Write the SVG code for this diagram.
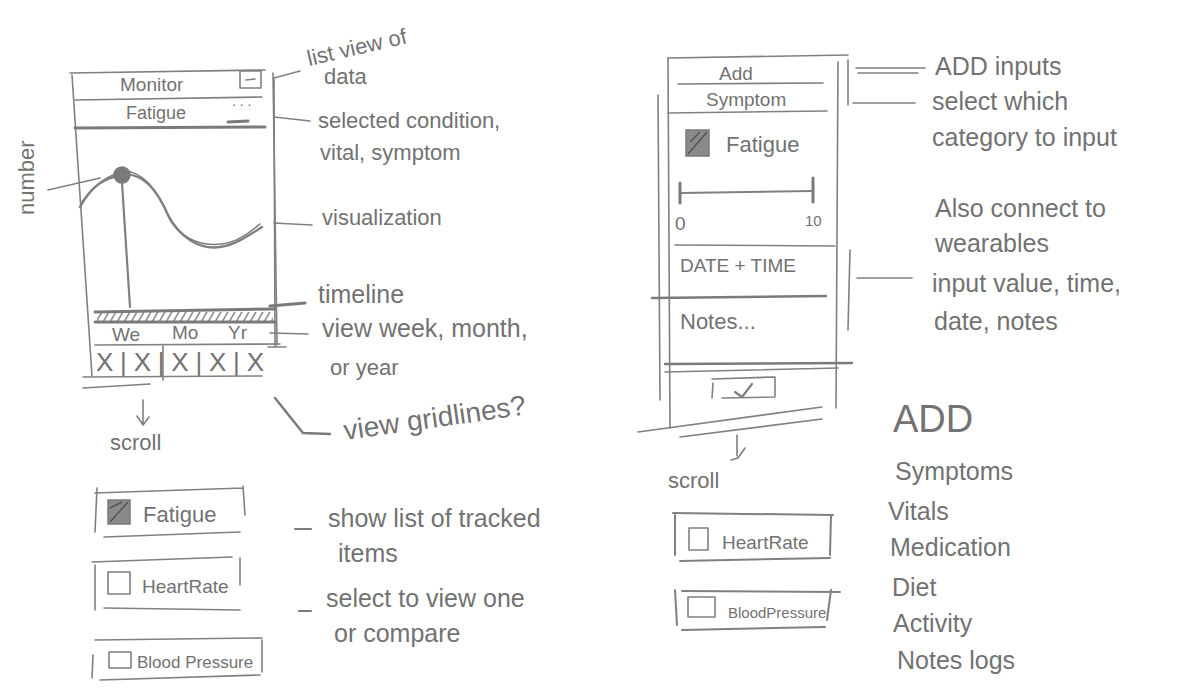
<svg xmlns="http://www.w3.org/2000/svg" width="1200" height="700" viewBox="0 0 1200 700">
<style>
  .p{fill:none;stroke:#808080;stroke-width:1.6;stroke-linecap:round;stroke-linejoin:round}
  .pt{fill:none;stroke:#7a7a7a;stroke-width:3;stroke-linecap:round}
  .t{font-family:"Liberation Sans","DejaVu Sans",sans-serif;fill:#727272}
  .a{font-size:22px}
  .b{font-size:25px}
  .s{font-size:19px}
  .fill{fill:#7a7a7a;stroke:#7a7a7a;stroke-width:1.5}
</style>
<defs>
  <pattern id="hatch" width="7" height="12" patternUnits="userSpaceOnUse" patternTransform="skewX(-30)">
    <line x1="2" y1="0" x2="2" y2="12" stroke="#7a7a7a" stroke-width="1.6"/>
  </pattern>
</defs>
<rect width="1200" height="700" fill="#ffffff"/>

<g id="monitor-screen">
  <path class="p" d="M70 73 L265 70"/>
  <path class="p" d="M72 75 L92 376"/>
  <path class="p" d="M273 73 L277 345"/>
  <text class="t s" x="120" y="91">Monitor</text>
  <rect class="p" x="240" y="71" width="21" height="17"/>
  <path class="p" d="M246 80 L255 79"/>
  <path class="p" d="M75 100 L262 97"/>
  <text class="t" style="font-size:18px" x="126" y="119">Fatigue</text>
  <text class="t" style="font-size:14px" x="232" y="106">. . .</text>
  <path class="pt" d="M228 122 L248 121"/>
  <path class="pt" d="M75 128 L265 127"/>
  <path class="p" d="M80 207 C92 185 105 178 122 175 C140 172 155 185 168 215 C180 238 200 250 220 247 C235 245 248 236 262 227" style="stroke-width:2.4"/>
  <path class="p" d="M82 202 C95 182 110 176 122 171 C142 170 158 190 170 220 C184 242 205 246 222 244 C238 242 250 232 260 224"/>
  <circle cx="122" cy="175" r="8" class="fill"/>
  <path class="p" d="M122 183 L130 307" style="stroke-width:2.2"/>
  <rect x="97" y="312" width="176" height="10" fill="url(#hatch)"/>
  <path class="pt" d="M95 312 L275 309"/>
  <path class="pt" d="M95 322 L275 322"/>
  <text class="t s" x="112" y="341">We</text>
  <text class="t s" x="172" y="339">Mo</text>
  <text class="t s" x="228" y="339">Yr</text>
  <path class="p" d="M95 345 L280 344"/>
  <text class="t" style="font-size:26px" x="96" y="371" textLength="168" lengthAdjust="spacing">X|X|X|X|X</text>
  <path class="p" d="M163 346 L163 380"/>
  <path class="p" d="M83 377 L262 376"/>
  <path class="p" d="M83 388 L150 384"/>
  <text class="t a" x="0" y="0" transform="translate(34,215) rotate(-90)">number</text>
</g>

<g id="monitor-list">
  <text class="t a" x="110" y="450">scroll</text>
  <path class="p" d="M95 493 L243 488 M97 488 L95 532 M243 486 L245 515 M104 537 L240 532"/>
  <rect x="108" y="500" width="22" height="24" class="fill" style="fill:#8a8a8a"/>
  <path d="M110 522 L128 502 M110 508 L122 502" stroke="#555" stroke-width="1.5"/>
  <text class="t a" x="143" y="522">Fatigue</text>
  <path class="p" d="M92 562 L232 557 M95 565 L95 610 M240 558 L240 585 M104 608 L240 610"/>
  <rect class="p" x="108" y="572" width="22" height="22"/>
  <text class="t s" x="142" y="593">HeartRate</text>
  <path class="p" d="M95 640 L262 638 M93 655 L92 678 M262 640 L262 672 M100 680 L260 675"/>
  <rect class="p" x="109" y="652" width="22" height="16"/>
  <text class="t" style="font-size:17px" x="137" y="668">Blood Pressure</text>
</g>

<g id="monitor-notes">
  <text class="t a" transform="translate(309,66) rotate(-13)">list view of</text>
  <text class="t a" x="324" y="84">data</text>
  <text class="t a" x="318" y="128">selected condition,</text>
  <text class="t a" x="320" y="160">vital, symptom</text>
  <text class="t a" x="322" y="225">visualization</text>
  <text class="t b" x="318" y="303">timeline</text>
  <text class="t b" x="322" y="337">view week, month,</text>
  <text class="t a" x="330" y="375">or year</text>
  <text class="t" style="font-size:28px" transform="translate(345,440) rotate(-8)">view gridlines?</text>
  <text class="t b" x="328" y="527">show list of tracked</text>
  <text class="t b" x="338" y="562">items</text>
  <text class="t b" x="326" y="607">select to view one</text>
  <text class="t b" x="334" y="642">or compare</text>
</g>

<g id="add-screen">
  <path class="p" d="M668 58 L848 55"/>
  <path class="p" d="M668 58 L670 428"/>
  <path class="p" d="M658 95 L660 400"/>
  <path class="p" d="M838 62 L836 408"/>
  <path class="p" d="M850 250 L848 330"/>
  <text class="t s" x="719" y="80">Add</text>
  <path class="p" d="M678 84 L823 83"/>
  <text class="t s" x="706" y="106">Symptom</text>
  <path class="p" d="M668 113 L827 111"/>
  <rect x="686" y="130" width="23" height="26" class="fill" style="fill:#8a8a8a"/>
  <path d="M688 154 L707 132 M690 142 L700 132" stroke="#555" stroke-width="1.5"/>
  <text class="t a" x="726" y="152">Fatigue</text>
  <path class="p" d="M680 193 L812 191" style="stroke-width:2"/>
  <path class="pt" d="M680 183 L680 203 M813 178 L813 202"/>
  <text class="t s" x="675" y="230">0</text>
  <text class="t" style="font-size:15px" x="805" y="226">10</text>
  <path class="p" d="M675 245 L835 246"/>
  <text class="t s" x="680" y="272">DATE + TIME</text>
  <path class="pt" d="M652 298 L826 296" style="stroke-width:2.4"/>
  <text class="t a" x="680" y="329">Notes...</text>
  <path class="pt" d="M665 364 L852 363" style="stroke-width:2.4"/>
  <path class="p" d="M665 372 L838 368"/>
  <path class="p" d="M712 379 L775 377 M713 383 L712 398 M775 378 L775 396 M722 398 L775 397"/>
  <path class="p" d="M735 392 L742 397 L752 384" style="stroke-width:2.2"/>
  <path class="p" d="M638 432 L822 407"/>
  <path class="p" d="M680 437 L822 419"/>
</g>

<g id="add-list">
  <text class="t a" x="668" y="488">scroll</text>
  <path class="p" d="M673 513 L833 515 M675 515 L675 555 M831 515 L830 555 M680 561 L830 558" style="stroke-width:2"/>
  <rect class="p" x="689" y="528" width="19" height="22"/>
  <text class="t s" x="722" y="549">HeartRate</text>
  <path class="p" d="M682 591 L840 592 M675 590 L677 625 M831 590 L827 620 M682 630 L825 627" style="stroke-width:2"/>
  <rect class="p" x="688" y="597" width="27" height="20"/>
  <text class="t" style="font-size:15px" x="728" y="618">BloodPressure</text>
</g>

<g id="add-notes">
  <text class="t b" x="935" y="75">ADD inputs</text>
  <text class="t b" x="932" y="110">select which</text>
  <text class="t b" x="932" y="146">category to input</text>
  <text class="t b" x="935" y="217">Also connect to</text>
  <text class="t b" x="935" y="252">wearables</text>
  <text class="t b" x="932" y="292">input value, time,</text>
  <text class="t b" x="934" y="330">date, notes</text>
  <text class="t" style="font-size:38px" x="893" y="432">ADD</text>
  <text class="t b" x="895" y="480">Symptoms</text>
  <text class="t b" x="888" y="520">Vitals</text>
  <text class="t b" x="890" y="556">Medication</text>
  <text class="t b" x="892" y="596">Diet</text>
  <text class="t b" x="893" y="632">Activity</text>
  <text class="t b" x="897" y="669">Notes logs</text>
</g>

<g id="connectors">
  <path class="p" d="M274 78 L275 347"/>
  <path class="p" d="M274 78 L300 71"/>
  <path class="p" d="M274 117 L310 121"/>
  <path class="p" d="M274 223 L312 225"/>
  <path class="pt" d="M270 306 L305 303"/>
  <path class="p" d="M270 333 L308 334"/>
  <path class="p" d="M268 347 L286 347"/>
  <path class="pt" d="M275 398 L303 433 L330 434" style="stroke-width:2.4"/>
  <path class="p" d="M48 190 L100 178"/>
  <path class="p" d="M143 400 L143 424 M137 416 L143 425 L149 417"/>
  <path class="pt" d="M295 529 L311 529" style="stroke-width:2"/>
  <path class="pt" d="M299 611 L311 611" style="stroke-width:2"/>
  <path class="p" d="M856 68 L925 68 M858 73 L918 73"/>
  <path class="p" d="M853 103 L915 103"/>
  <path class="p" d="M857 278 L912 278"/>
  <path class="p" d="M848 60 L848 105"/>
  <path class="p" d="M737 435 L737 456 M731 460 L738 458 L745 448"/>
</g>
</svg>
